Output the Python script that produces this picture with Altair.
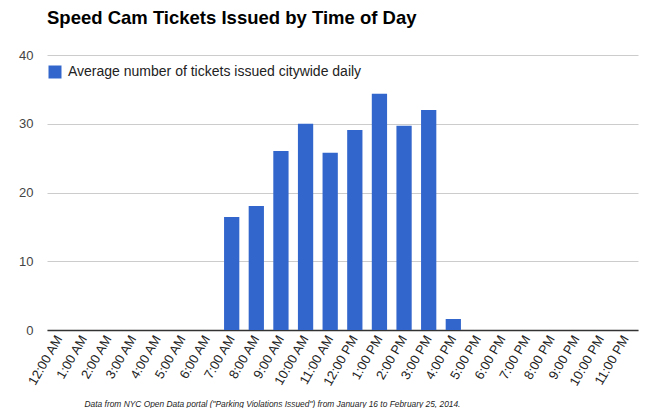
import altair as alt
import pandas as pd

hours = ["12:00 AM", "1:00 AM", "2:00 AM", "3:00 AM", "4:00 AM", "5:00 AM",
         "6:00 AM", "7:00 AM", "8:00 AM", "9:00 AM", "10:00 AM", "11:00 AM",
         "12:00 PM", "1:00 PM", "2:00 PM", "3:00 PM", "4:00 PM", "5:00 PM",
         "6:00 PM", "7:00 PM", "8:00 PM", "9:00 PM", "10:00 PM", "11:00 PM"]
tickets = [0, 0, 0, 0, 0, 0,
           0, 16.45, 18.05, 26.05, 30.0, 25.8,
           29.1, 34.35, 29.7, 32.0, 1.6, 0,
           0, 0, 0, 0, 0, 0]
series_name = "Average number of tickets issued citywide daily"
footer = 'Data from NYC Open Data portal ("Parking Violations Issued") from January 16 to February 25, 2014.'

df = pd.DataFrame({"hour": hours, "tickets": tickets, "series": series_name})

FONT = "Liberation Sans"

chart = alt.Chart(df).mark_bar(color="#3366cc").encode(
    x=alt.X("hour:N", sort=hours,
            scale=alt.Scale(paddingInner=0.38, paddingOuter=0.19),
            axis=alt.Axis(title=footer, labelAngle=-60, labelAlign="right",
                          labelBaseline="middle", labelFontSize=13,
                          labelColor="#222222", labelFont=FONT, ticks=False,
                          labelPadding=6, domainColor="#333333", domainWidth=1.5,
                          titleFont=FONT, titleFontStyle="italic",
                          titleFontWeight="normal", titleFontSize=8.4,
                          titleColor="#222222", titleX=225, titleY=76,
                          titleAlign="center", titleBaseline="alphabetic")),
    y=alt.Y("tickets:Q", scale=alt.Scale(domain=[0, 40], nice=False),
            axis=alt.Axis(title=None, values=[0, 10, 20, 30, 40], ticks=False,
                          domain=False, labelFontSize=13, labelColor="#444444",
                          labelFont=FONT, labelPadding=14,
                          gridColor="#cccccc")),
    color=alt.Color("series:N",
                    scale=alt.Scale(range=["#3366cc"]),
                    legend=alt.Legend(title=None, orient="none", legendX=1, legendY=10,
                                      symbolType="square", symbolSize=169,
                                      symbolStrokeWidth=0, labelFontSize=14,
                                      labelFont=FONT, labelColor="#222222",
                                      labelLimit=500, labelOffset=6)),
).properties(
    width=591,
    height=275,
    title=alt.TitleParams("Speed Cam Tickets Issued by Time of Day", anchor="start",
                          font=FONT, fontSize=18.5, fontWeight="bold", color="#000000",
                          offset=22, frame="group"),
    autosize=alt.AutoSizeParams(type="none"),
    padding={"left": 39, "top": 47, "right": 12, "bottom": 78},
).configure(background="white").configure_view(stroke=None, strokeWidth=0)

chart.save("out.html", embed_options={"renderer": "svg", "actions": False})
